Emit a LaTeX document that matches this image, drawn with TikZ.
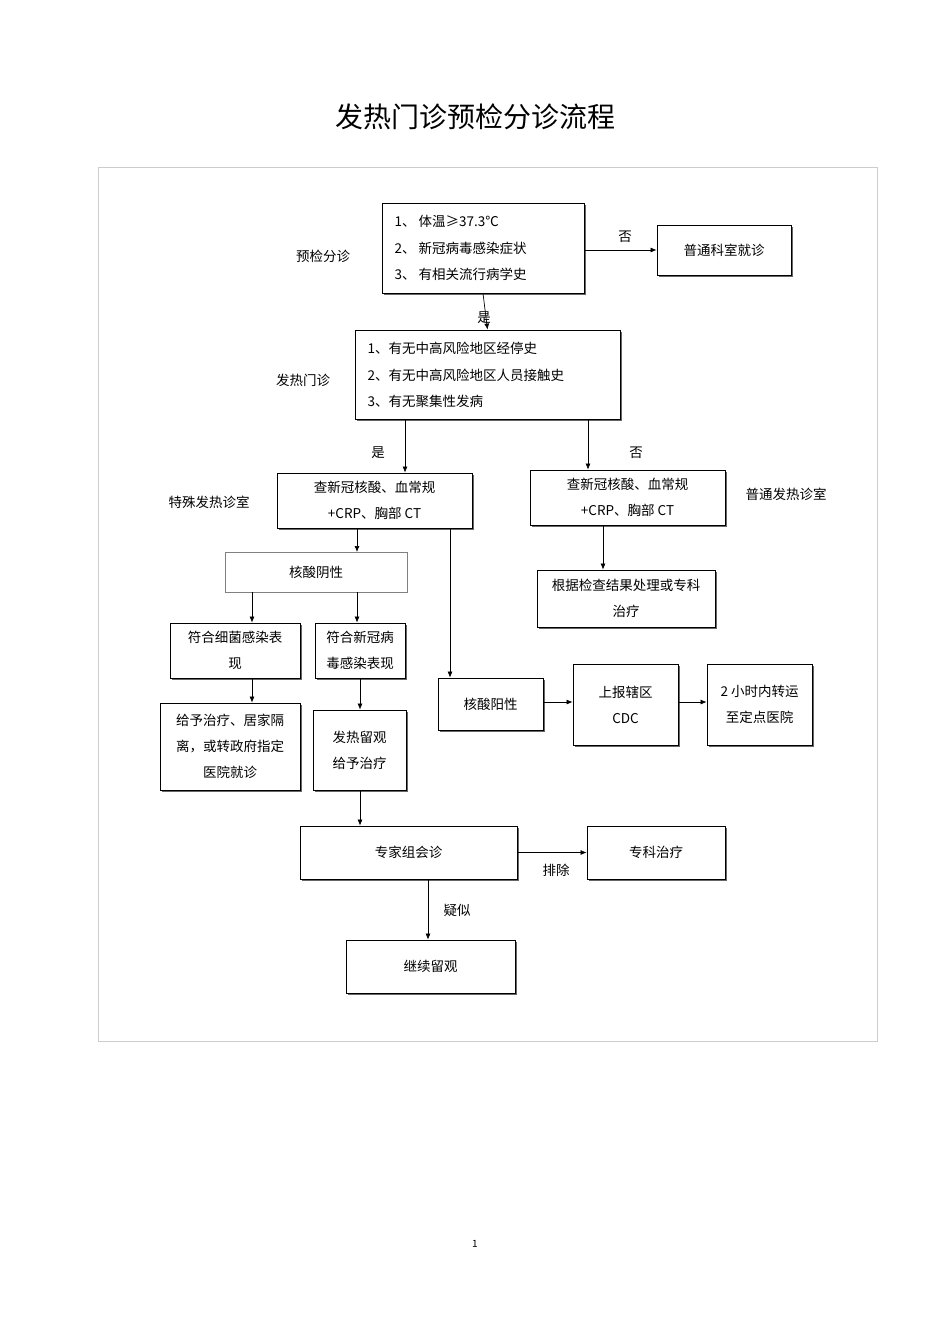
\documentclass[tikz,border=0pt]{standalone}
\usepackage{fontspec}
\setmainfont{Noto Sans CJK SC}
\usetikzlibrary{arrows.meta}
\begin{document}
\begin{tikzpicture}[x=1pt,y=-1pt,
  bx/.style={draw=black,line width=0.8pt,fill=white,align=center,font=\fontsize{13.5}{26}\selectfont},
  lb/.style={font=\fontsize{13.5}{16}\selectfont},
  ar/.style={-{Latex[length=6pt,width=5pt]},line width=0.7pt}]
\fill[white] (0,0) rectangle (950,1344);
\useasboundingbox (0,0) rectangle (950,1344);
\node[font=\fontsize{28}{32}\selectfont] (title) at (475,117) {发热门诊预检分诊流程};
\draw[black!20] (98,167) rectangle (877,1041);
\newcommand{\bxat}[6]{% name, x1,y1,x2,y2, text
  \fill[black!60] (#2+2,#3+2) rectangle (#4+2,#5+2);
  \node[bx,minimum width=#4-#2,minimum height=#5-#3,inner sep=0pt] (#1) at ({(#2+#4)/2},{(#3+#5)/2}) {#6};}
\bxat{b1}{382}{203}{584}{293}{}
\node[lb,anchor=west,align=left,font=\fontsize{13.5}{26.5}\selectfont] (b1t) at (391,248) {1、 体温≥37.3℃\\2、 新冠病毒感染症状\\3、 有相关流行病学史};
\node[lb] (l1) at (323,256) {预检分诊};
\bxat{pt}{657}{225}{791}{275}{普通科室就诊}
\draw[ar] (b1.east|-pt.west) -- (pt.west);
\node[lb] (n1) at (625,237) {否};
\bxat{b2}{355}{330}{620}{419}{}
\node[lb,anchor=west,align=left,font=\fontsize{13.5}{26.5}\selectfont] (b2t) at (364,375) {1、有无中高风险地区经停史\\2、有无中高风险地区人员接触史\\3、有无聚集性发病};
\draw[ar] (b1.south) -- (b2.north);
\node[lb] (y1) at (484,318) {是};
\node[lb] (l2) at (303,380) {发热门诊};
\bxat{b3}{277}{473}{472}{528}{查新冠核酸、血常规\\+CRP、胸部 CT}
\bxat{b4}{530}{470}{725}{525}{查新冠核酸、血常规\\+CRP、胸部 CT}
\draw[ar] (b2.south-|405,0) -- (b3.north-|405,0);
\draw[ar] (b2.south-|588,0) -- (b4.north-|588,0);
\node[lb] (y2) at (378,453) {是};
\node[lb] (n2) at (636,453) {否};
\node[lb] (l3) at (209,502) {特殊发热诊室};
\node[lb] (l4) at (786,494) {普通发热诊室};
\bxat{b5}{537}{570}{715}{627}{根据检查结果处理或专科\\治疗}
\draw[ar] (b4.south-|603,0) -- (b5.north-|603,0);
\draw[black!50,fill=white] (225,552) rectangle (407,592);
\node[bx,draw=none,fill=none] (neg) at (316,572) {核酸阴性};
\draw[ar] (b3.south-|357,0) -- (357,552);
\bxat{b6}{170}{623}{300}{678}{符合细菌感染表\\现}
\bxat{b7}{315}{623}{405}{678}{符合新冠病\\毒感染表现}
\draw[ar] (252,592) -- (b6.north-|252,0);
\draw[ar] (357,592) -- (b7.north-|357,0);
\bxat{b8}{160}{703}{300}{790}{给予治疗、居家隔\\离，或转政府指定\\医院就诊}
\bxat{b9}{313}{710}{406}{790}{发热留观\\给予治疗}
\draw[ar] (b6.south-|252,0) -- (b8.north-|252,0);
\draw[ar] (b7.south-|360,0) -- (b9.north-|360,0);
\bxat{b10}{300}{826}{517}{879}{专家组会诊}
\draw[ar] (b9.south-|360,0) -- (b10.north-|360,0);
\bxat{b11}{587}{826}{725}{879}{专科治疗}
\draw[ar] (b10.east) -- (b11.west);
\node[lb] (pc) at (556,870) {排除};
\bxat{b12}{346}{940}{515}{993}{继续留观}
\draw[ar] (b10.south-|428,0) -- (b12.north-|428,0);
\node[lb] (ys) at (457,910) {疑似};
\bxat{pos}{438}{678}{543}{730}{核酸阳性}
\draw[ar] (b3.south-|450,0) -- (pos.north-|450,0);
\bxat{cdc}{573}{664}{678}{745}{上报辖区\\CDC}
\bxat{zy}{707}{664}{812}{745}{2 小时内转运\\至定点医院}
\draw[ar] (pos.east|-0,702) -- (cdc.west|-0,702);
\draw[ar] (cdc.east|-0,702) -- (zy.west|-0,702);
\node[font=\fontsize{10}{12}\selectfont] (pg) at (475,1244) {1};
\end{tikzpicture}
\end{document}
